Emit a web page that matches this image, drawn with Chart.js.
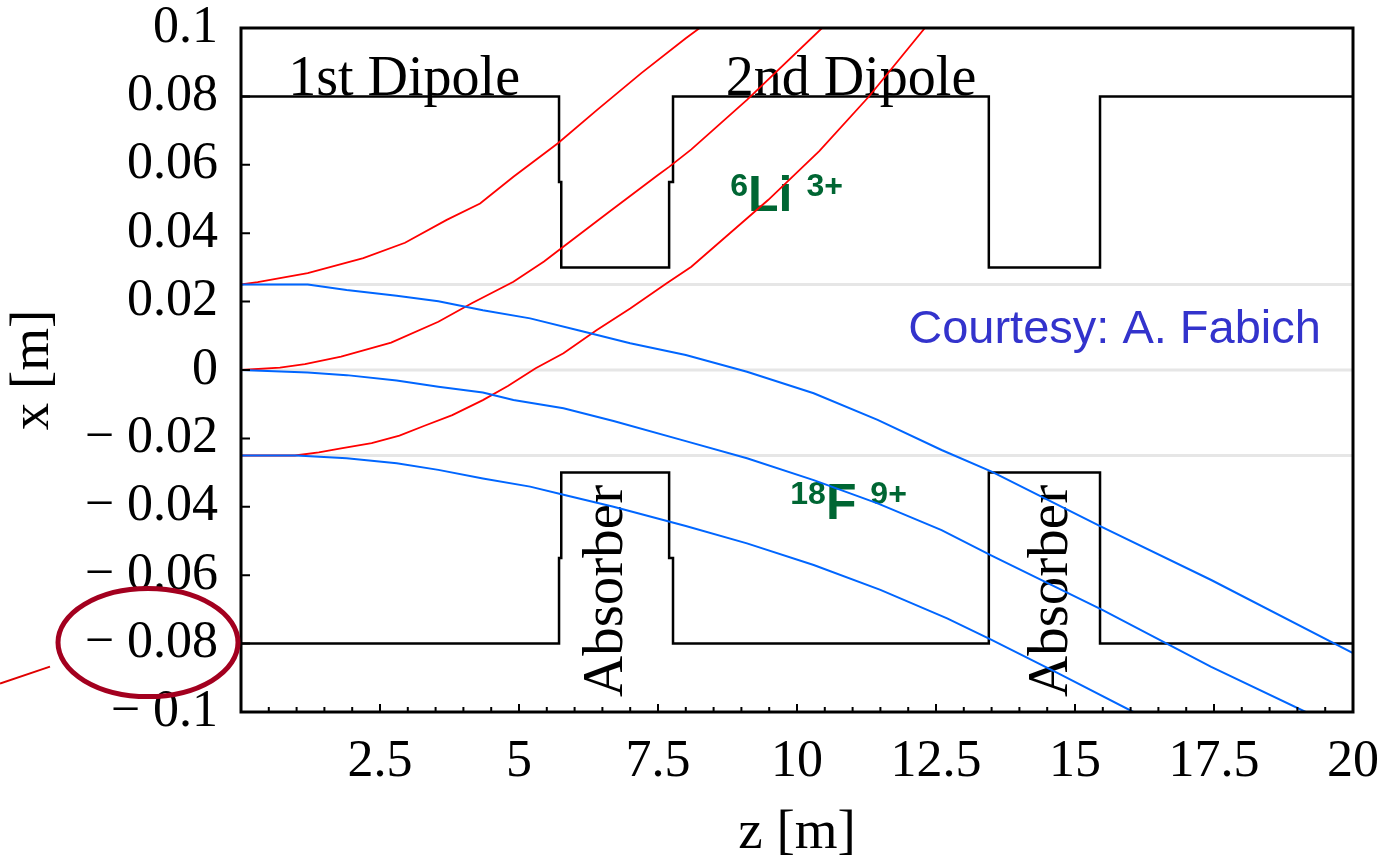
<!DOCTYPE html>
<html lang="en">
<head>
<meta charset="UTF-8" />
<title>Li 3+ / F 9+ trajectories</title>
<script src="https://cdn.jsdelivr.net/npm/chart.js"></script>
<style>
  html, body { margin: 0; padding: 0; background: #fff; }
  canvas { display: block; }
</style>
</head>
<body>
<canvas id="orbits" width="1382" height="862"></canvas>
<script>
// z [m] along the beam line, x [m] transverse offset
const zMin = 0, zMax = 20;
const xMin = -0.1, xMax = 0.1;

// 6Li 3+ trajectories (red)
const liTopZ = [0, 0.3, 1.2, 2.2, 2.95, 3.7, 4.3, 4.9, 5.7, 6.4, 7.2, 8.0, 8.25];
const liTopX = [0.025, 0.0257, 0.0283, 0.0327, 0.0372, 0.0439, 0.0487, 0.0565, 0.0663, 0.076, 0.0868, 0.097, 0.1];
const liMidZ = [0, 0.7, 1.15, 1.8, 2.7, 3.55, 4.15, 4.9, 5.45, 5.72, 6.6, 7.5, 7.7, 8.1, 9.1, 10.45];
const liMidX = [0, 0.0007, 0.0017, 0.0039, 0.008, 0.0141, 0.0195, 0.0258, 0.0317, 0.0351, 0.046, 0.057, 0.0594, 0.0645, 0.079, 0.1];
const liBotZ = [0, 0.97, 1.4, 1.8, 2.35, 2.85, 3.3, 3.8, 4.35, 4.8, 5.3, 5.8, 6.4, 7.0, 7.65, 8.1, 9.48, 10.4, 11.29, 12.3];
const liBotX = [-0.025, -0.025, -0.0241, -0.0229, -0.0214, -0.0192, -0.0163, -0.0132, -0.0088, -0.0047, 0.0005, 0.0049, 0.0117, 0.018, 0.0253, 0.0302, 0.0497, 0.064, 0.0799, 0.1];

// 18F 9+ trajectories (blue)
const fTopZ = [0, 1.2, 1.9, 2.8, 3.55, 4.35, 5.2, 6.1, 7.0, 8.0, 9.1, 10.3, 11.45, 12.6, 13.5, 15.47, 17.45, 20];
const fTopX = [0.025, 0.025, 0.0234, 0.0217, 0.0201, 0.0175, 0.0151, 0.0115, 0.0078, 0.0044, -0.0005, -0.0068, -0.0146, -0.0234, -0.0297, -0.0458, -0.0614, -0.0828];
const fMidZ = [0, 1.2, 1.9, 2.8, 3.55, 4.35, 4.9, 5.8, 6.7, 8.0, 9.1, 10.3, 11.45, 12.6, 13.5, 15.5, 17.45, 19.15];
const fMidX = [0, -0.0007, -0.0015, -0.0031, -0.0049, -0.0066, -0.0088, -0.0112, -0.0149, -0.0208, -0.0258, -0.0322, -0.039, -0.0468, -0.0543, -0.0702, -0.0868, -0.1];
const fBotZ = [0, 1.0, 1.9, 2.8, 3.55, 4.35, 5.2, 5.8, 6.7, 8.0, 9.1, 10.3, 11.5, 12.7, 13.5, 14.7, 16.05];
const fBotX = [-0.025, -0.025, -0.0258, -0.0273, -0.0292, -0.0317, -0.0341, -0.0365, -0.04, -0.0456, -0.0507, -0.057, -0.0643, -0.0726, -0.0789, -0.0887, -0.1];

// dipole / absorber outline
const upperWallZ = [0, 5.72, 5.72, 5.76, 5.76, 7.70, 7.70, 7.77, 7.77, 13.45, 13.45, 15.45, 15.45, 20];
const upperWallX = [0.08, 0.08, 0.055, 0.055, 0.03, 0.03, 0.055, 0.055, 0.08, 0.08, 0.03, 0.03, 0.08, 0.08];
const lowerWallZ = [0, 5.72, 5.72, 5.76, 5.76, 7.70, 7.70, 7.77, 7.77, 13.45, 13.45, 15.45, 15.45, 20];
const lowerWallX = [-0.08, -0.08, -0.055, -0.055, -0.03, -0.03, -0.055, -0.055, -0.08, -0.08, -0.03, -0.03, -0.08, -0.08];

// light guide lines at the start offsets
const guideX = [0.025, 0, -0.025];

const pts = (zs, xs) => zs.map((z, i) => ({ x: z, y: xs[i] }));

const RED = "#ff0000";
const BLUE = "#0066ff";
const GREEN = "#006633";
const SERIF = "'Liberation Serif', 'Times New Roman', serif";
const SANS = "'Liberation Sans', Arial, sans-serif";

function line(data, color, width, order) {
  return {
    data,
    borderColor: color,
    borderWidth: width,
    pointRadius: 0,
    showLine: true,
    fill: false,
    tension: 0,
    order,
  };
}

const datasets = [
  line(pts(fTopZ, fTopX), BLUE, 2, 1),
  line(pts(fMidZ, fMidX), BLUE, 2, 1),
  line(pts(fBotZ, fBotX), BLUE, 2, 1),
  line(pts(liTopZ, liTopX), RED, 1.8, 2),
  line(pts(liMidZ, liMidX), RED, 1.8, 2),
  line(pts(liBotZ, liBotX), RED, 1.8, 2),
  line(pts(upperWallZ, upperWallX), "#000", 2.5, 3),
  line(pts(lowerWallZ, lowerWallX), "#000", 2.5, 3),
  ...guideX.map((g) => line([{ x: zMin, y: g }, { x: zMax, y: g }], "#e6e6e6", 3, 4)),
];

// text placed in data coordinates
const textLabels = [
  { text: "1st Dipole", z: 0.85, x: 0.0805, font: "56px " + SERIF, color: "#000" },
  { text: "2nd Dipole", z: 8.72, x: 0.0805, font: "56px " + SERIF, color: "#000" },
  { text: "Courtesy: A. Fabich", z: 12.0, x: 0.0079, font: "47px " + SANS, color: "#3333cc" },
  { text: "Absorber", z: 6.86, x: -0.0646, font: "57px " + SERIF, color: "#000", vertical: true },
  { text: "Absorber", z: 14.86, x: -0.0646, font: "57px " + SERIF, color: "#000", vertical: true },
];
const ionLabels = [
  { z: 8.8, x: 0.0466, parts: [["6", true], ["Li", false], [" ", false], ["3+", true]] },
  { z: 9.88, x: -0.0436, parts: [["18", true], ["F", false], [" ", false], ["9+", true]] },
];

const annotations = {
  id: "annotations",
  beforeDatasetsDraw(chart) {
    const { ctx, scales } = chart;
    const sx = scales.x, sy = scales.y;
    ctx.save();
    textLabels.forEach((l) => {
      const px = sx.getPixelForValue(l.z), py = sy.getPixelForValue(l.x);
      ctx.font = l.font;
      ctx.fillStyle = l.color;
      ctx.textBaseline = "alphabetic";
      if (l.vertical) {
        ctx.save();
        ctx.translate(px, py);
        ctx.rotate(-Math.PI / 2);
        ctx.textAlign = "center";
        ctx.fillText(l.text, 0, 0);
        ctx.restore();
      } else {
        ctx.textAlign = "left";
        ctx.fillText(l.text, px, py);
      }
    });
    ionLabels.forEach((l) => {
      let px = sx.getPixelForValue(l.z);
      const py = sy.getPixelForValue(l.x);
      ctx.fillStyle = GREEN;
      ctx.textAlign = "left";
      ctx.textBaseline = "alphabetic";
      l.parts.forEach(([t, sup]) => {
        ctx.font = "bold " + (sup ? 32 : 50) + "px " + SANS;
        ctx.fillText(t, px, sup ? py - 15 : py);
        px += ctx.measureText(t).width;
      });
    });
    ctx.restore();
  },
  afterDatasetsDraw(chart) {
    const { ctx, chartArea: a, scales } = chart;
    ctx.save();
    ctx.strokeStyle = "#000";
    ctx.lineWidth = 3;
    ctx.strokeRect(a.left, a.top, a.right - a.left, a.bottom - a.top);
    ctx.lineWidth = 2;
    ctx.beginPath();
    scales.x.ticks.forEach((t) => {
      const p = scales.x.getPixelForValue(t.value);
      const major = Math.abs(t.value / 2.5 - Math.round(t.value / 2.5)) < 1e-6;
      ctx.moveTo(p, a.bottom);
      ctx.lineTo(p, a.bottom - (major ? 8 : 5));
    });
    scales.y.ticks.forEach((t) => {
      const p = scales.y.getPixelForValue(t.value);
      ctx.moveTo(a.left, p);
      ctx.lineTo(a.left + 9, p);
    });
    ctx.stroke();
    ctx.restore();
  },
  afterDraw(chart) {
    // highlight ring around the -0.08 tick label
    const { ctx, scales } = chart;
    const cy = scales.y.getPixelForValue(-0.08) - 1;
    ctx.save();
    ctx.strokeStyle = "#a3001f";
    ctx.lineWidth = 5;
    ctx.beginPath();
    ctx.ellipse(148, cy, 90, 54, 0, 0, Math.PI * 2);
    ctx.stroke();
    ctx.strokeStyle = "#e00000";
    ctx.lineWidth = 2;
    ctx.beginPath();
    ctx.moveTo(0, cy + 41);
    ctx.lineTo(50, cy + 24);
    ctx.stroke();
    ctx.restore();
  },
};

function xTick(value) {
  const k = value / 2.5;
  if (value === 0 || Math.abs(k - Math.round(k)) > 1e-6) return "";
  return String(Math.round(value * 10) / 10);
}

function yTick(value) {
  const v = Math.round(value * 100) / 100;
  if (v === 0) return "0";
  return (v < 0 ? "\u2212 " : "") + String(Math.abs(v));
}

new Chart(document.getElementById("orbits"), {
  type: "scatter",
  data: { datasets },
  options: {
    responsive: false,
    animation: false,
    devicePixelRatio: 1,
    layout: { padding: { top: 28, right: 29, bottom: 0, left: 0 } },
    plugins: {
      legend: { display: false },
      tooltip: { enabled: false },
    },
    scales: {
      x: {
        type: "linear",
        min: zMin,
        max: zMax,
        afterFit: (s) => {
          s.height = 150;
          s.paddingLeft = 0;
          s.paddingRight = 0;
        },
        grid: { display: false, drawTicks: false },
        border: { display: false },
        ticks: {
          stepSize: 0.5,
          autoSkip: false,
          maxRotation: 0,
          padding: 24,
          color: "#000",
          font: { family: SERIF, size: 52, lineHeight: 1 },
          callback: xTick,
        },
        title: {
          display: true,
          text: "z [m]",
          color: "#000",
          font: { family: SERIF, size: 55, lineHeight: 1 },
          padding: { top: 0, bottom: 1 },
        },
      },
      y: {
        type: "linear",
        min: xMin,
        max: xMax,
        afterFit: (s) => {
          s.width = 241;
          s.paddingTop = 0;
          s.paddingBottom = 0;
        },
        grid: { display: false, drawTicks: false },
        border: { display: false },
        ticks: {
          stepSize: 0.02,
          autoSkip: false,
          padding: 23,
          color: "#000",
          font: { family: SERIF, size: 52, lineHeight: 1 },
          callback: yTick,
        },
        title: {
          display: true,
          text: "x [m]",
          color: "#000",
          font: { family: SERIF, size: 55, lineHeight: 1 },
          padding: { top: 6, bottom: 0 },
        },
      },
    },
  },
  plugins: [annotations],
});
</script>
</body>
</html>
